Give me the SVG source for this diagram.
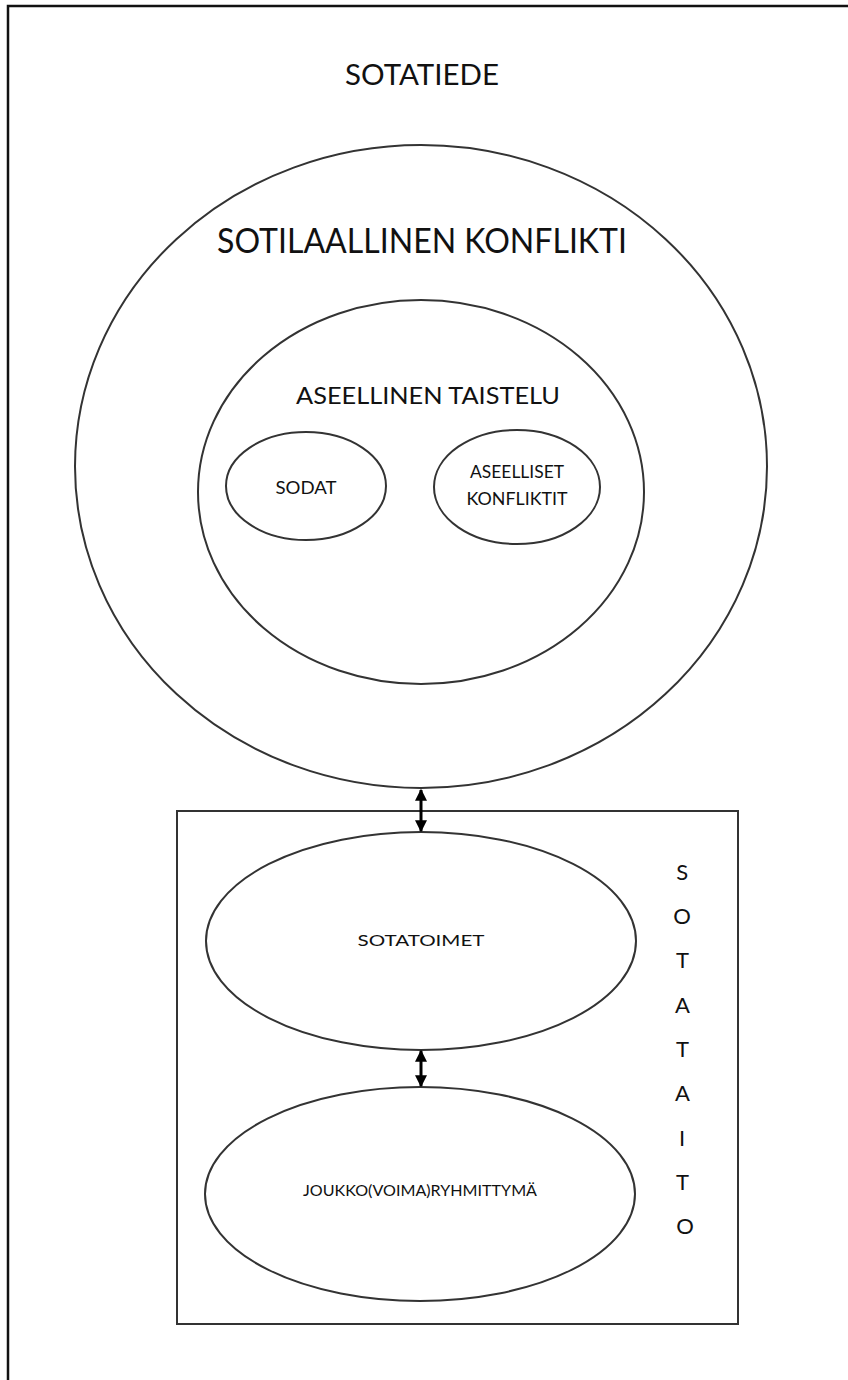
<svg xmlns="http://www.w3.org/2000/svg" width="848" height="1380" viewBox="0 0 848 1380">
<defs>
<marker id="ah" viewBox="0 0 10 10" refX="9" refY="5" markerWidth="4" markerHeight="4" orient="auto-start-reverse">
<path d="M0,0 L10,5 L0,10 z" fill="#000"/>
</marker>
<style>
.sh{fill:none;stroke:#333;stroke-width:2}
.t{font-family:Lato,"Open Sans","Liberation Sans",sans-serif;fill:#111;text-anchor:middle}
.con{stroke:#000;stroke-width:3;fill:none}
</style>
</defs>
<rect width="848" height="1380" fill="#fff"/>
<path d="M8,1380 V6 H848" fill="none" stroke="#111" stroke-width="2.5"/>
<text class="t" x="422" y="85" font-size="28" textLength="154" lengthAdjust="spacingAndGlyphs">SOTATIEDE</text>
<g id="sotilaallinen">
<ellipse class="sh" cx="421" cy="466.5" rx="346" ry="321.5"/>
<text class="t" x="422" y="253" font-size="34" textLength="410" lengthAdjust="spacingAndGlyphs">SOTILAALLINEN KONFLIKTI</text>
</g>
<g id="aseellinen">
<ellipse class="sh" cx="421" cy="492" rx="223" ry="192"/>
<text class="t" x="428" y="404" font-size="24" textLength="264" lengthAdjust="spacingAndGlyphs">ASEELLINEN TAISTELU</text>
</g>
<g id="sodat">
<ellipse class="sh" cx="306" cy="486" rx="80" ry="54"/>
<text class="t" x="306" y="494" font-size="18" textLength="61" lengthAdjust="spacingAndGlyphs">SODAT</text>
</g>
<g id="aseelliset">
<ellipse class="sh" cx="517" cy="487" rx="83" ry="57"/>
<text class="t" x="517" y="478" font-size="17" textLength="94" lengthAdjust="spacingAndGlyphs">ASEELLISET</text>
<text class="t" x="517" y="505" font-size="17" textLength="101" lengthAdjust="spacingAndGlyphs">KONFLIKTIT</text>
</g>
<g id="sotataito">
<rect class="sh" x="177" y="811" width="561" height="513"/>
<text class="t" x="685" font-size="22">
<tspan x="685" y="880">S</tspan>
<tspan x="685" y="924">O</tspan>
<tspan x="685" y="968">T</tspan>
<tspan x="685" y="1013">A</tspan>
<tspan x="685" y="1057">T</tspan>
<tspan x="685" y="1101">A</tspan>
<tspan x="685" y="1146">I</tspan>
<tspan x="685" y="1190">T</tspan>
<tspan x="685" y="1234">O</tspan>
</text>
</g>
<g id="sotatoimet">
<ellipse class="sh" cx="421" cy="941" rx="215" ry="109"/>
<text class="t" x="421" y="946" font-size="15" textLength="127" lengthAdjust="spacingAndGlyphs">SOTATOIMET</text>
</g>
<g id="joukko">
<ellipse class="sh" cx="420" cy="1194" rx="215" ry="107"/>
<text class="t" x="420" y="1196" font-size="15" textLength="234" lengthAdjust="spacingAndGlyphs">JOUKKO(VOIMA)RYHMITTYMÄ</text>
</g>
<g id="connectors">
<line class="con" x1="421" y1="790" x2="421" y2="831" marker-start="url(#ah)" marker-end="url(#ah)"/>
<line class="con" x1="421" y1="1051" x2="421" y2="1086" marker-start="url(#ah)" marker-end="url(#ah)"/>
</g>
</svg>
